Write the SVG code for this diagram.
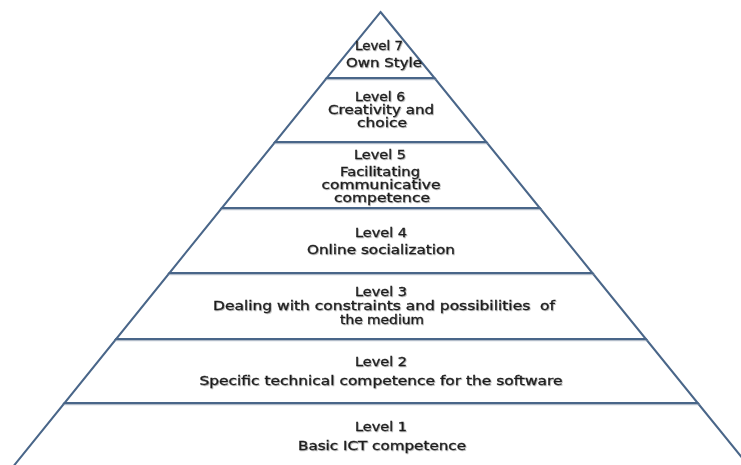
<svg xmlns="http://www.w3.org/2000/svg" width="741" height="465" viewBox="0 0 741 465">
<defs>
<filter id="ts" x="-10%" y="-30%" width="120%" height="160%">
<feDropShadow dx="0.8" dy="0.8" stdDeviation="0.6" flood-color="#000" flood-opacity="0.35"/>
</filter>
<filter id="ls" x="-5%" y="-5%" width="110%" height="110%">
<feDropShadow dx="0.6" dy="1.2" stdDeviation="0.5" flood-color="#7f8fa6" flood-opacity="0.6"/>
</filter>
</defs>
<style>
.band{fill:#ffffff;stroke:#4a6689;stroke-width:2;stroke-linejoin:miter;filter:url(#ls)}
.t{font-family:"DejaVu Sans","Liberation Sans",sans-serif;font-size:12px;fill:#1e1e1e;stroke:#1e1e1e;stroke-width:0.3;text-anchor:middle;filter:url(#ts)}
</style>
<rect width="741" height="465" fill="#ffffff"/>
<g id="level1">
<polygon class="band" points="64.5,403 697.7,403 752,470 10.4,470"/>
<text class="t" x="381" y="431" textLength="52" lengthAdjust="spacingAndGlyphs">Level 1</text>
<text class="t" x="382" y="450" textLength="168" lengthAdjust="spacingAndGlyphs">Basic ICT competence</text>
</g>
<g id="level2">
<polygon class="band" points="116.1,339 645.9,339 697.7,403 64.5,403"/>
<text class="t" x="381" y="366" textLength="52" lengthAdjust="spacingAndGlyphs">Level 2</text>
<text class="t" x="381" y="385" textLength="363" lengthAdjust="spacingAndGlyphs">Specific technical competence for the software</text>
</g>
<g id="level3">
<polygon class="band" points="169.4,273 592.4,273 645.9,339 116.1,339"/>
<text class="t" x="381" y="296" textLength="52" lengthAdjust="spacingAndGlyphs">Level 3</text>
<text class="t" x="384" y="310" textLength="342" lengthAdjust="spacingAndGlyphs" xml:space="preserve">Dealing with constraints and possibilities  of</text>
<text class="t" x="382" y="324" textLength="84" lengthAdjust="spacingAndGlyphs">the medium</text>
</g>
<g id="level4">
<polygon class="band" points="221.8,208 539.8,208 592.4,273 169.4,273"/>
<text class="t" x="381" y="237" textLength="52" lengthAdjust="spacingAndGlyphs">Level 4</text>
<text class="t" x="381" y="254" textLength="148" lengthAdjust="spacingAndGlyphs">Online socialization</text>
</g>
<g id="level5">
<polygon class="band" points="275.1,142 486.3,142 539.8,208 221.8,208"/>
<text class="t" x="380" y="159" textLength="52" lengthAdjust="spacingAndGlyphs">Level 5</text>
<text class="t" x="380" y="176" textLength="80" lengthAdjust="spacingAndGlyphs">Facilitating</text>
<text class="t" x="381" y="189" textLength="119" lengthAdjust="spacingAndGlyphs">communicative</text>
<text class="t" x="382" y="202" textLength="96" lengthAdjust="spacingAndGlyphs">competence</text>
</g>
<g id="level6">
<polygon class="band" points="326.7,78 434.5,78 486.3,142 275.1,142"/>
<text class="t" x="380" y="101" textLength="50" lengthAdjust="spacingAndGlyphs">Level 6</text>
<text class="t" x="381" y="114" textLength="106" lengthAdjust="spacingAndGlyphs">Creativity and</text>
<text class="t" x="382" y="127" textLength="50" lengthAdjust="spacingAndGlyphs">choice</text>
</g>
<g id="level7">
<polygon class="band" points="380.5,12 434.5,78 326.7,78"/>
<text class="t" x="379" y="50" textLength="48" lengthAdjust="spacingAndGlyphs">Level 7</text>
<text class="t" x="384" y="67" textLength="76" lengthAdjust="spacingAndGlyphs">Own Style</text>
</g>
<g id="connectors"></g>
</svg>
